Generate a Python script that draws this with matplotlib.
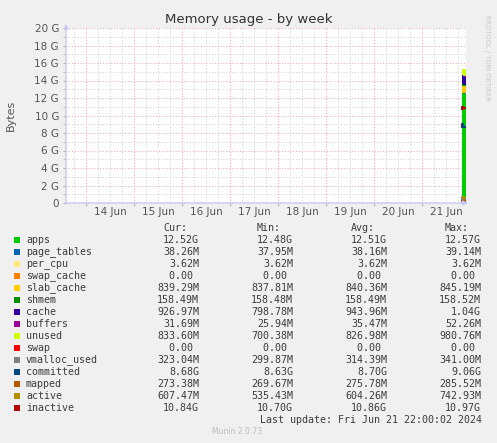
import numpy as np
import matplotlib
matplotlib.use('Agg')
import matplotlib.pyplot as plt
import matplotlib.dates as mdates
from matplotlib.patches import Rectangle
from matplotlib.ticker import FixedLocator, FuncFormatter

W, H = 497, 443

# sample times (munin week graph, 30 min steps) - data only exists for the last ~2 h
times = np.array(['2024-06-21T20:00', '2024-06-21T20:30', '2024-06-21T21:00',
                  '2024-06-21T21:30', '2024-06-21T22:00'], dtype='datetime64[m]')

# stacked areas, in G
apps = [12.49, 12.55, 12.50, 12.51, 12.52]
page_tables = [0.0371, 0.0375, 0.0372, 0.0374, 0.0374]
per_cpu = [0.0035, 0.0035, 0.0035, 0.0035, 0.0035]
swap_cache = [0.0, 0.0, 0.0, 0.0, 0.0]
slab_cache = [0.818, 0.825, 0.820, 0.821, 0.820]
shmem = [0.1548, 0.1548, 0.1548, 0.1548, 0.1548]
cache = [0.80, 1.04, 0.95, 0.93, 0.905]
buffers = [0.026, 0.051, 0.035, 0.033, 0.031]
unused = [0.98, 0.70, 0.81, 0.83, 0.814]
swap = [0.0, 0.0, 0.0, 0.0, 0.0]

# lines, in G
vmalloc_used = [0.30, 0.333, 0.31, 0.315, 0.3155]
committed = [8.63, 9.06, 8.70, 8.68, 8.68]
mapped = [0.264, 0.279, 0.268, 0.267, 0.267]
active = [0.52, 0.725, 0.59, 0.60, 0.593]
inactive = [10.70, 10.97, 10.86, 10.85, 10.84]

names = ['apps', 'page_tables', 'per_cpu', 'swap_cache', 'slab_cache', 'shmem', 'cache',
         'buffers', 'unused', 'swap', 'vmalloc_used', 'committed', 'mapped', 'active', 'inactive']
colors = ['#00CC00', '#0066B3', '#FFE680', '#FF8000', '#FFCC00', '#008F00', '#330099',
          '#990099', '#CCFF00', '#FF0000', '#808080', '#00487D', '#B35A00', '#B38F00', '#B30000']

cur = ['12.52G', '38.26M', '3.62M', '0.00 ', '839.29M', '158.49M', '926.97M', '31.69M',
       '833.60M', '0.00 ', '323.04M', '8.68G', '273.38M', '607.47M', '10.84G']
vmin = ['12.48G', '37.95M', '3.62M', '0.00 ', '837.81M', '158.48M', '798.78M', '25.94M',
        '700.38M', '0.00 ', '299.87M', '8.63G', '269.67M', '535.43M', '10.70G']
vavg = ['12.51G', '38.16M', '3.62M', '0.00 ', '840.36M', '158.49M', '943.96M', '35.47M',
        '826.98M', '0.00 ', '314.39M', '8.70G', '275.78M', '604.26M', '10.86G']
vmax = ['12.57G', '39.14M', '3.62M', '0.00 ', '845.19M', '158.52M', '1.04G', '52.26M',
        '980.76M', '0.00 ', '341.00M', '9.06G', '285.52M', '742.93M', '10.97G']

y_ticks = [0, 2, 4, 6, 8, 10, 12, 14, 16, 18, 20]
y_labels = ['0', '2 G', '4 G', '6 G', '8 G', '10 G', '12 G', '14 G', '16 G', '18 G', '20 G']
x_start, x_end = np.datetime64('2024-06-13T14:00'), np.datetime64('2024-06-21T22:00')


def fx(px):
    return px / W


def fy(py):
    return 1 - py / H


fig = plt.figure(figsize=(W / 100, H / 100), dpi=100, facecolor='#F0F0F0')
ax = fig.add_axes([fx(66), fy(203), fx(466) - fx(66), fy(28) - fy(203)], facecolor='white')

stack = [apps, page_tables, per_cpu, swap_cache, slab_cache, shmem, cache, buffers, unused, swap]
ax.stackplot(times, *stack, colors=colors[:10], step='pre', lw=0, zorder=2)
for vals, c in zip([vmalloc_used, committed, mapped, active, inactive], colors[10:]):
    ax.step(times, vals, where='pre', color=c, lw=1.6, zorder=3)

ax.set_xlim(x_start, x_end)
ax.set_ylim(0, 20)

# grid: red dotted at midnight / every 2G, grey dotted every 6h / 1G
days = np.arange(np.datetime64('2024-06-14'), np.datetime64('2024-06-22'), np.timedelta64(1, 'D'))
ax.xaxis.set_major_locator(FixedLocator(mdates.date2num(days.astype('datetime64[m]'))))
ax.xaxis.set_minor_locator(mdates.HourLocator(byhour=[0, 6, 12, 18]))
ax.xaxis.set_major_formatter(FuncFormatter(lambda v, p: ''))
ax.xaxis.set_minor_formatter(FuncFormatter(
    lambda v, p: mdates.num2date(v).strftime('%d Jun') if mdates.num2date(v).hour == 12 else ''))
ax.set_yticks(y_ticks)
ax.set_yticklabels(y_labels)
ax.set_yticks(np.arange(1, 20, 2), minor=True)

ax.grid(which='major', color='#E8A8A8', ls=(0, (1, 1.8)), lw=0.72)
ax.grid(which='minor', color='#CFCFCF', ls=(0, (1, 1.8)), lw=0.72)
ax.set_axisbelow(True)
ax.tick_params(which='both', length=2, color='#B0B0B0', labelsize=7.5, labelcolor='#555555', pad=3)
ax.tick_params(axis='x', which='minor', length=0)
for s in ax.spines.values():
    s.set_visible(False)

# axis arrows
arrow = dict(arrowstyle='-|>', color='#C8C8F0', lw=1, mutation_scale=7)
ax.annotate('', xy=(1.012, 0), xytext=(-0.005, 0), xycoords='axes fraction', arrowprops=arrow,
            annotation_clip=False)
ax.annotate('', xy=(0, 1.04), xytext=(0, -0.02), xycoords='axes fraction', arrowprops=arrow,
            annotation_clip=False)

fig.text(0.5, fy(20), 'Memory usage - by week', ha='center', va='center', fontsize=9.5, color='#333333')
fig.text(fx(11), fy(115), 'Bytes', rotation=90, ha='center', va='center', fontsize=8, color='#555555')
fig.text(fx(487), fy(58), 'RRDTOOL / TOBI OETIKER', rotation=270, ha='center', va='center',
         fontsize=4.9, color='#C8C8C8')

# legend table
mono = dict(family='DejaVu Sans Mono', fontsize=7.2, color='#3C3C3C', va='center')
for label, xr in zip(['Cur:', 'Min:', 'Avg:', 'Max:'], [187, 281, 375, 469]):
    fig.text(fx(xr), fy(228), label, ha='right', **mono)
for i, name in enumerate(names):
    y = 240 + 12 * i
    fig.add_artist(Rectangle((fx(14), fy(y + 3)), fx(6), 6 / H, transform=fig.transFigure,
                             facecolor=colors[i], edgecolor='none'))
    fig.text(fx(26), fy(y), name, ha='left', **mono)
    for col, xr in zip([cur, vmin, vavg, vmax], [199, 293, 387, 481]):
        fig.text(fx(xr), fy(y), col[i], ha='right', **mono)

fig.text(fx(482), fy(420), 'Last update: Fri Jun 21 22:00:02 2024', ha='right', **mono)
fig.text(fx(237), fy(432), 'Munin 2.0.73', ha='center', va='center', fontsize=5.5, color='#BBBBBB')

fig.savefig('out.png', dpi=100, facecolor=fig.get_facecolor())
